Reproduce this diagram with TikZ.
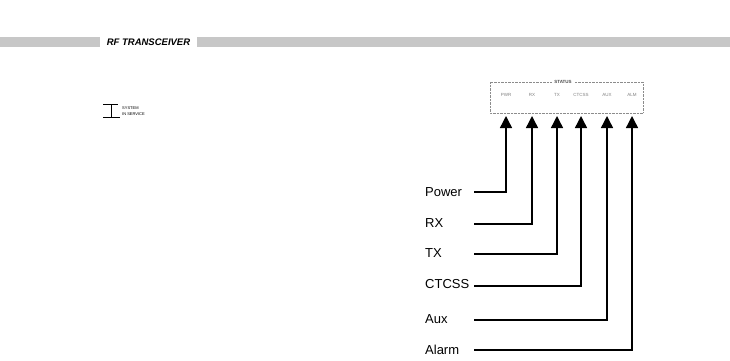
\documentclass[tikz,border=0pt]{standalone}
\usepackage{fontspec}
\setmainfont{Liberation Sans}
\usetikzlibrary{arrows.meta}
\begin{document}
\begin{tikzpicture}[x=1pt,y=-1pt,
  lbl/.style={anchor=west,font=\fontsize{13}{15}\selectfont,inner sep=0pt},
  conn/.style={line width=1.4pt,-{Triangle[width=12pt,length=12pt]}},
  led/.style={font=\fontsize{4.5}{5}\selectfont,text=black!50,inner sep=0pt},
  tiny/.style={font=\fontsize{4}{4}\selectfont,inner sep=0pt,anchor=west},
  band/.style={fill=black!22},
]
\useasboundingbox (0,0) rectangle (730,360);
% header band
\fill[band] (0,37) rectangle (100,47);
\fill[band] (197,37) rectangle (730,47);
\node[font=\fontsize{9.5}{10}\selectfont\bfseries\itshape,inner sep=0pt] (hdr) at (148.5,42) {RF TRANSCEIVER};
% left indicator symbol
\draw[line width=0.8pt] (103,104) -- (118,104) (111,104) -- (111,117) (103,117) -- (120,117);
\node[tiny] (sys1) at (122,108) {SYSTEM};
\node[tiny] (sys2) at (122,114) {IN SERVICE};
% LED panel
\draw[densely dotted,black!45] (490,82) rectangle (643,113);
\node[led,font=\fontsize{4.5}{5}\selectfont\bfseries,text=black!70,fill=white,inner xsep=2pt] (stat) at (563,82) {STATUS};
\node[led] (lpwr) at (506,95) {PWR};
\node[led] (lrx) at (532,95) {RX};
\node[led] (ltx) at (557,95) {TX};
\node[led] (lct) at (581,95) {CTCSS};
\node[led] (laux) at (607,95) {AUX};
\node[led] (lalm) at (632,95) {ALM};
% arrow tips
\coordinate (t1) at (506,116);
\coordinate (t2) at (532,116);
\coordinate (t3) at (557,116);
\coordinate (t4) at (581,116);
\coordinate (t5) at (607,116);
\coordinate (t6) at (632,116);
% labels
\node[lbl] (pw) at (425,192) {Power};
\node[lbl] (rx) at (425,223) {RX};
\node[lbl] (tx) at (425,253) {TX};
\node[lbl] (ct) at (425,284) {CTCSS};
\node[lbl] (ax) at (425,319) {Aux};
\node[lbl] (al) at (425,350) {Alarm};
% line starts
\coordinate (s1) at (474,192);
\coordinate (s2) at (474,224);
\coordinate (s3) at (474,254);
\coordinate (s4) at (474,286);
\coordinate (s5) at (474,320);
\coordinate (s6) at (474,350);
\draw[conn] (s1) -| (t1);
\draw[conn] (s2) -| (t2);
\draw[conn] (s3) -| (t3);
\draw[conn] (s4) -| (t4);
\draw[conn] (s5) -| (t5);
\draw[conn] (s6) -| (t6);
\end{tikzpicture}
\end{document}
